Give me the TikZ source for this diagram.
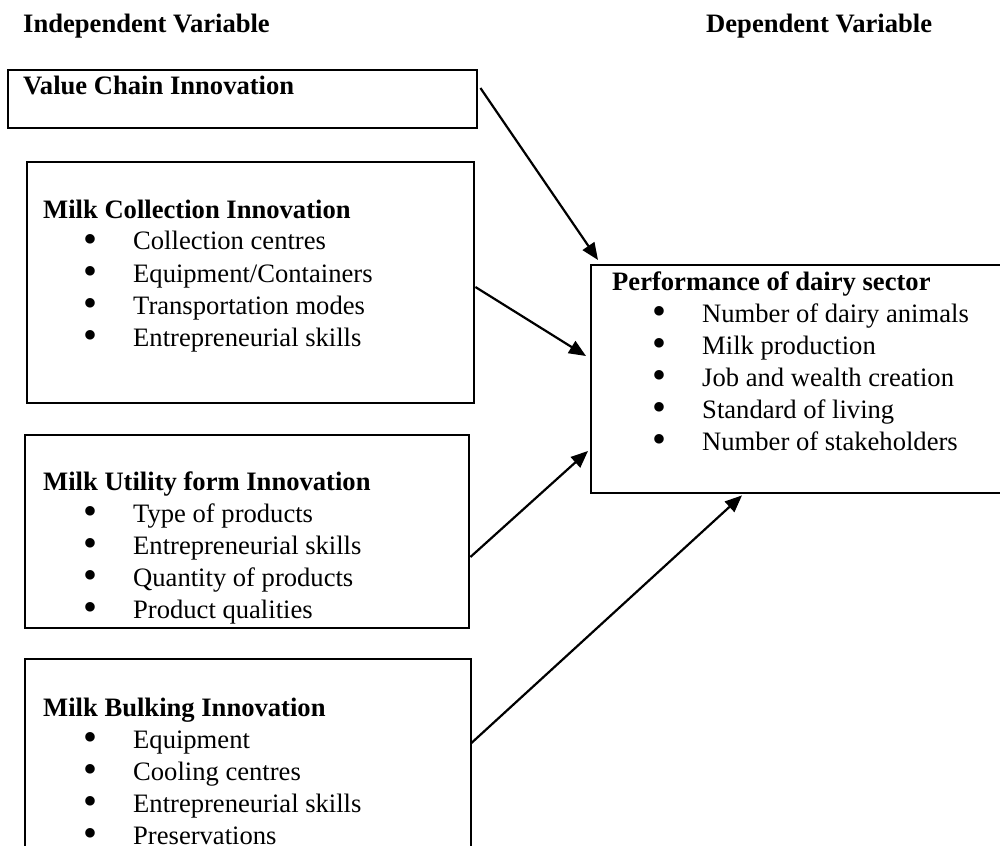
\documentclass[tikz,border=0pt]{standalone}
\usepackage{fontspec}
\setmainfont{Liberation Serif}
\usetikzlibrary{arrows.meta}
\newcommand{\bigbul}{\raisebox{-2.8pt}[0pt][0pt]{\scalebox{1.5}{\textbullet}}}
\newcommand{\bitem}[1]{\hspace*{40pt}\makebox[50pt][l]{\bigbul}#1}
\begin{document}
\begin{tikzpicture}[x=1pt,y=-1pt,
  box/.style={draw,line width=2.4pt,rectangle,inner sep=0pt,anchor=north west},
  conn/.style={line width=2.2pt,-{Triangle[length=17pt,width=14pt]}},
  txt/.style={anchor=base west,inner sep=0pt,align=left,font=\fontsize{26.6pt}{32pt}\selectfont}]
\useasboundingbox (0,0) rectangle (1000,845);
\fill[white] (0,0) rectangle (1000,845);
\clip (0,0) rectangle (1000,845);

% headers
\node[txt] (hind) at (23,33) {\textbf{Independent Variable}};
\node[txt] (hdep) at (706,33) {\textbf{Dependent Variable}};

% boxes
\node[box,minimum width=469pt,minimum height=58pt] (vc) at (7,69) {};
\node[box,minimum width=447pt,minimum height=241pt] (mc) at (26,161) {};
\node[box,minimum width=444pt,minimum height=193pt] (mu) at (24,434) {};
\node[box,minimum width=446pt,minimum height=210pt] (mb) at (24,658) {};
\node[box,minimum width=430pt,minimum height=228pt] (perf) at (590,264) {};

% texts
\node[txt] (vct) at (23,95) {\textbf{Value Chain Innovation}};
\node[txt] (mct) at (43,218) {\begin{tabular}[t]{@{}l@{}}
\textbf{Milk Collection Innovation}\\
\bitem{Collection centres}\\
\bitem{Equipment/Containers}\\
\bitem{Transportation modes}\\
\bitem{Entrepreneurial skills}
\end{tabular}};
\node[txt] (mut) at (43,490) {\begin{tabular}[t]{@{}l@{}}
\textbf{Milk Utility form Innovation}\\
\bitem{Type of products}\\
\bitem{Entrepreneurial skills}\\
\bitem{Quantity of products}\\
\bitem{Product qualities}
\end{tabular}};
\node[txt] (mbt) at (43,716) {\begin{tabular}[t]{@{}l@{}}
\textbf{Milk Bulking Innovation}\\
\bitem{Equipment}\\
\bitem{Cooling centres}\\
\bitem{Entrepreneurial skills}\\
\bitem{Preservations}
\end{tabular}};
\node[txt] (pt) at (612,290) {\begin{tabular}[t]{@{}l@{}}
\textbf{Performance of dairy sector}\\
\bitem{Number of dairy animals}\\
\bitem{Milk production}\\
\bitem{Job and wealth creation}\\
\bitem{Standard of living}\\
\bitem{Number of stakeholders}
\end{tabular}};

% connectors
\draw[conn] ([xshift=2pt,yshift=-19pt]vc.north east) -- ([xshift=8pt,yshift=4pt]perf.north west);
\draw[conn] ([yshift=-126pt]mc.north east) -- ([xshift=-4pt,yshift=-92pt]perf.north west);
\draw[conn] ([yshift=-123pt]mu.north east) -- ([xshift=-2pt,yshift=-187pt]perf.north west);
\draw[conn] ([xshift=-1pt,yshift=-85pt]mb.north east) -- ([xshift=152pt,yshift=-1pt]perf.south west);
\end{tikzpicture}
\end{document}
